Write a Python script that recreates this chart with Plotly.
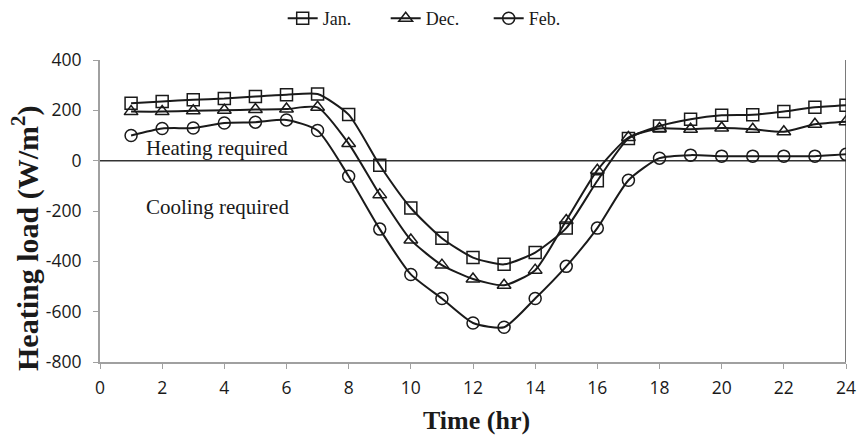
import plotly.graph_objects as go

hours = list(range(1, 25))
jan = [228, 235, 242, 247, 255, 262, 265, 183, -18, -188, -308, -385, -412, -365, -268, -80, 88, 138, 165, 180, 182, 195, 212, 220]
dec = [195, 195, 198, 200, 203, 205, 212, 68, -135, -315, -415, -470, -495, -435, -238, -38, 92, 128, 125, 130, 125, 115, 145, 155]
feb = [100, 128, 130, 150, 153, 162, 120, -62, -272, -452, -548, -645, -662, -548, -420, -268, -78, 10, 22, 18, 18, 18, 18, 25]

x_ticks = list(range(0, 25, 2))
y_ticks = list(range(-800, 401, 200))
y_ticktext = [str(v) for v in y_ticks]

serif = "Liberation Serif, Times New Roman, serif"
sans = "Open Sans, Liberation Sans, sans-serif"

fig = go.Figure()
for name, vals, sym in [("Jan.", jan, "square-open"), ("Dec.", dec, "triangle-up-open"), ("Feb.", feb, "circle-open")]:
    fig.add_trace(go.Scatter(
        x=hours, y=vals, name=name, mode="lines+markers",
        line=dict(color="#1a1a1a", width=2, shape="spline", smoothing=0.6),
        marker=dict(symbol=sym, size=12, color="#1a1a1a", line=dict(width=1.5, color="#1a1a1a")),
    ))

# zero line
fig.add_shape(type="line", xref="x", yref="y", x0=0, x1=24, y0=0, y1=0,
              line=dict(color="#333333", width=1.5), layer="below")
# right border
fig.add_shape(type="line", xref="x", yref="paper", x0=24, x1=24, y0=0, y1=1,
              line=dict(color="#222222", width=1.2))

fig.add_annotation(x=1.4, y=0, xref="x", yref="y", text="Heating required", showarrow=False,
                   xanchor="left", yanchor="bottom", yshift=-1, font=dict(family=serif, size=21, color="#1a1a1a"))
fig.add_annotation(x=1.4, y=-185, xref="x", yref="y", text="Cooling required", showarrow=False,
                   xanchor="left", yanchor="middle", font=dict(family=serif, size=21, color="#1a1a1a"))
# y-axis title
fig.add_annotation(x=-75 / 746, y=(362 - 238) / 302, xref="paper", yref="paper",
                   text="<b>Heating load (W/m<sup>2</sup>)</b>", textangle=-90, showarrow=False,
                   xanchor="center", yanchor="middle", font=dict(family=serif, size=30, color="#1a1a1a"))
# x-axis title
fig.add_annotation(x=0.505, y=(362 - 420) / 302, xref="paper", yref="paper",
                   text="<b>Time (hr)</b>", showarrow=False,
                   xanchor="center", yanchor="middle", font=dict(family=serif, size=26, color="#1a1a1a"))

fig.update_layout(
    width=859, height=439,
    margin=dict(l=100, r=13, t=60, b=77, autoexpand=False),
    plot_bgcolor="white", paper_bgcolor="white",
    showlegend=True,
    legend=dict(orientation="h", x=0.452, xanchor="center", y=1.0, yanchor="top", yref="container",
                font=dict(family=serif, size=18, color="#1a1a1a"), entrywidth=58,
                bgcolor="rgba(0,0,0,0)"),
    xaxis=dict(range=[0, 24], tickvals=x_ticks, showgrid=False, zeroline=False,
               showline=True, linecolor="#a0a0a0", linewidth=2,
               ticks="outside", ticklen=5, tickcolor="#a0a0a0", ticklabelstandoff=4,
               tickfont=dict(family=sans, size=17.5, color="#1a1a1a")),
    yaxis=dict(range=[-800, 400], tickvals=y_ticks, ticktext=y_ticktext, showgrid=False, zeroline=False,
               showline=True, linecolor="#a0a0a0", linewidth=2,
               ticks="outside", ticklen=5, tickcolor="#a0a0a0", ticklabelstandoff=8,
               tickfont=dict(family=sans, size=17.5, color="#1a1a1a")),
)

fig.write_html("out.html", config={"displayModeBar": False},
               post_script="document.body.style.margin='0';")
